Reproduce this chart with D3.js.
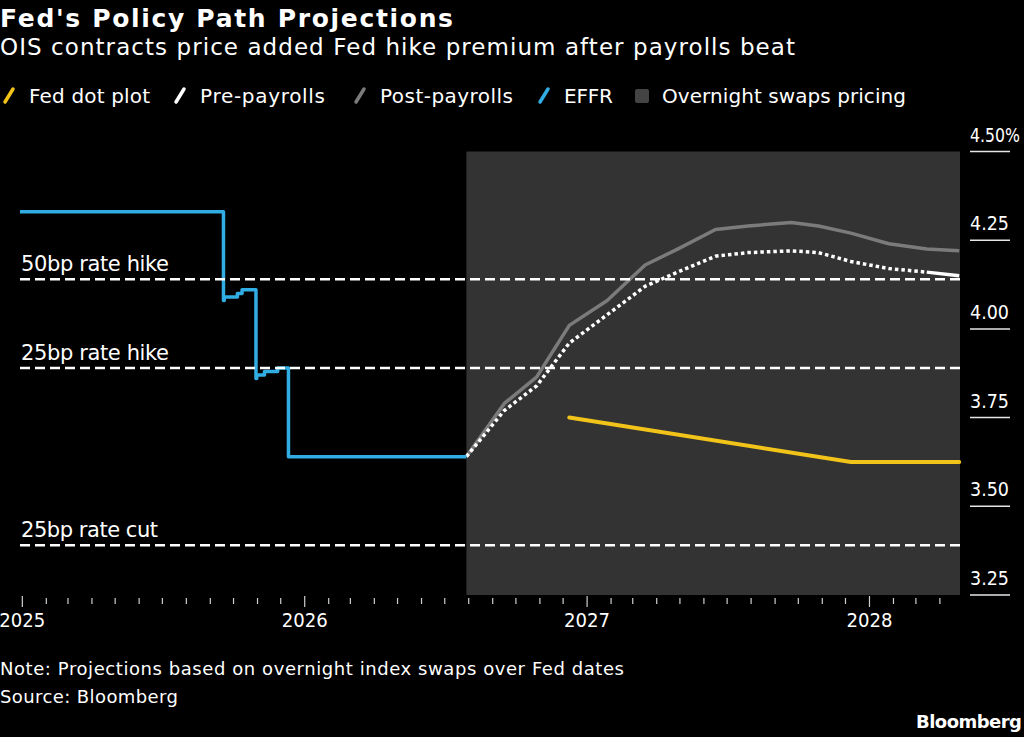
<!DOCTYPE html>
<html>
<head>
<meta charset="utf-8">
<script src="https://cdn.jsdelivr.net/npm/d3@7"></script>
<style>
  html, body { margin: 0; padding: 0; background: #000; }
  svg text { font-family: "DejaVu Sans", sans-serif; fill: #fff; }
</style>
</head>
<body>
<svg id="chart" width="1024" height="737"></svg>
<script>
/** data */
var effrDates = ['2024-12-29', '2025-09-18', '2025-09-19', '2025-10-06', '2025-10-12', '2025-10-30', '2025-10-31', '2025-11-10', '2025-11-27', '2025-12-11', '2026-07-29']
var effrValues = [4.33, 4.08, 4.09, 4.10, 4.11, 3.86, 3.87, 3.88, 3.89, 3.64, 3.64]

var fedDates = ['2026-07-29', '2026-09-16', '2026-10-28', '2026-12-09', '2027-01-27', '2027-03-17', '2027-04-28', '2027-06-16', '2027-07-28', '2027-09-22', '2027-10-27', '2027-12-08', '2028-01-26', '2028-03-15', '2028-04-26']
var preValues = [3.64, 3.77, 3.84, 3.96, 4.04, 4.12, 4.16, 4.205, 4.215, 4.22, 4.215, 4.19, 4.17, 4.16, 4.15]
var postValues = [3.64, 3.79, 3.865, 4.01, 4.08, 4.18, 4.225, 4.28, 4.29, 4.30, 4.29, 4.27, 4.24, 4.225, 4.22]

var dotDates = ['2026-12-09', '2027-12-08', '2028-04-26']
var dotValues = [3.75, 3.625, 3.625]

var refLevels = [4.14, 3.89, 3.39]
var refLabels = ['50bp rate hike', '25bp rate hike', '25bp rate cut']

var yTicks = [3.25, 3.5, 3.75, 4.0, 4.25, 4.5]
var yearTicks = ['2025-01-01', '2026-01-01', '2027-01-01', '2028-01-01']

var legendNames = ['Fed dot plot', 'Pre-payrolls', 'Post-payrolls', 'EFFR', 'Overnight swaps pricing']
var legendColors = ['#f2c318', '#ffffff', '#7b7b7b', '#31ade4', '#444444']
var legendX = [2, 173, 353, 537, 635]
var legendW = [121, 125, 133, 49, 244]

var swapsStart = '2026-07-29'

var parse = d3.timeParse('%Y-%m-%d')
var svg = d3.select('#chart')

var x = d3.scaleTime().domain([parse('2024-12-29'), parse('2028-04-27')]).range([20, 960])
var y = d3.scaleLinear().domain([3.25, 4.5]).range([595, 151.5])

/** text helper, width fitted to the reference by glyph spacing */
function label (tx, ty, size, str, w) {
  var t = svg.append('text').attr('x', tx).attr('y', ty).style('font-size', size + 'px').text(str)
  if (w) t.attr('textLength', w).attr('lengthAdjust', 'spacing')
  return t
}

/** narrow numbers: squeeze glyphs horizontally to the reference width */
function narrow (tx, ty, size, str, w) {
  var t = svg.append('text').attr('x', 0).attr('y', 0).style('font-size', size + 'px').text(str)
  var k = w / t.node().getComputedTextLength()
  t.attr('transform', 'translate(' + tx + ',' + ty + ') scale(' + k + ',1)')
  return t
}

/** titles */
label(0, 27, 25, "Fed's Policy Path Projections", 453).style('font-weight', 'bold')
label(0, 55, 23, 'OIS contracts price added Fed hike premium after payrolls beat', 795)

/** legend */
legendNames.forEach(function (name, i) {
  var lx = legendX[i]
  if (i == 4) {
    svg.append('rect').attr('x', lx).attr('y', 89).attr('width', 14).attr('height', 14).attr('rx', 2).attr('fill', legendColors[i])
  } else {
    svg.append('line').attr('x1', lx + 3).attr('y1', 102).attr('x2', lx + 11).attr('y2', 89)
      .style('stroke', legendColors[i]).style('stroke-width', 3.5).style('stroke-linecap', 'round')
  }
  label(lx + 27, 103, 20, name, legendW[i])
})

/** overnight swaps shaded area */
svg.append('rect')
  .attr('x', x(parse(swapsStart))).attr('y', y(4.5))
  .attr('width', x.range()[1] - x(parse(swapsStart))).attr('height', y(3.25) - y(4.5))
  .attr('fill', '#333333')

/** right axis */
yTicks.forEach(function (t) {
  svg.append('line').attr('x1', 970).attr('x2', 1010).attr('y1', y(t)).attr('y2', y(t))
    .style('stroke', '#e6e6e6').style('stroke-width', 1.5)
  var txt = t == 4.5 ? d3.format('.2f')(t) + '%' : d3.format('.2f')(t)
  narrow(970, y(t) - 10, 20, txt, t == 4.5 ? 50 : 39)
})

/** bottom axis: monthly minor ticks, yearly labels */
var months = d3.timeMonth.range(parse('2025-01-01'), parse('2028-04-02'))
months.forEach(function (m) {
  var major = m.getMonth() == 0
  svg.append('line').attr('x1', x(m)).attr('x2', x(m)).attr('y1', major ? 596 : 598).attr('y2', major ? 607 : 604)
    .style('stroke', '#cfcfcf').style('stroke-width', 1.2)
})
yearTicks.forEach(function (d) {
  narrow(x(parse(d)) - 23, 627, 20, d.slice(0, 4), 46)
})

/** lines */
var line = d3.line().x(function (d) { return x(d[0]) }).y(function (d) { return y(d[1]) })
var stepLine = d3.line().curve(d3.curveStepAfter).x(function (d) { return x(d[0]) }).y(function (d) { return y(d[1]) })

var post = fedDates.map(function (d, i) { return [parse(d), postValues[i]] })
var pre = fedDates.map(function (d, i) { return [parse(d), preValues[i]] })
var dots = dotDates.map(function (d, i) { return [parse(d), dotValues[i]] })
var effr = effrDates.map(function (d, i) { return [parse(d), effrValues[i]] })

svg.append('path').attr('d', line(post)).attr('fill', 'none')
  .style('stroke', '#7b7b7b').style('stroke-width', 3.5).style('stroke-linejoin', 'round')

svg.append('path').attr('d', line(pre.slice(0, pre.length - 1))).attr('fill', 'none')
  .style('stroke', '#fff').style('stroke-width', 3.5).style('stroke-dasharray', '3.5,3')
svg.append('path').attr('d', line(pre.slice(pre.length - 2))).attr('fill', 'none')
  .style('stroke', '#fff').style('stroke-width', 3.5)

svg.append('path').attr('d', line(dots)).attr('fill', 'none')
  .style('stroke', '#f2c318').style('stroke-width', 4).style('stroke-linecap', 'round')

svg.append('path').attr('d', stepLine(effr)).attr('fill', 'none')
  .style('stroke', '#31ade4').style('stroke-width', 3.5).style('stroke-linejoin', 'round')

/** reference levels */
refLevels.forEach(function (v, i) {
  svg.append('line').attr('x1', 20).attr('x2', 960).attr('y1', y(v)).attr('y2', y(v))
    .style('stroke', '#fff').style('stroke-width', 2.5).style('stroke-dasharray', '10,5')
  label(21, y(v) - 8, 21, refLabels[i], i == 2 ? 137 : 148)
})

/** footer */
label(0, 675, 18, 'Note: Projections based on overnight index swaps over Fed dates', 624)
label(0, 703, 18, 'Source: Bloomberg', 178)
label(916, 728, 18, 'Bloomberg', 106).style('font-weight', 'bold')
</script>
</body>
</html>
